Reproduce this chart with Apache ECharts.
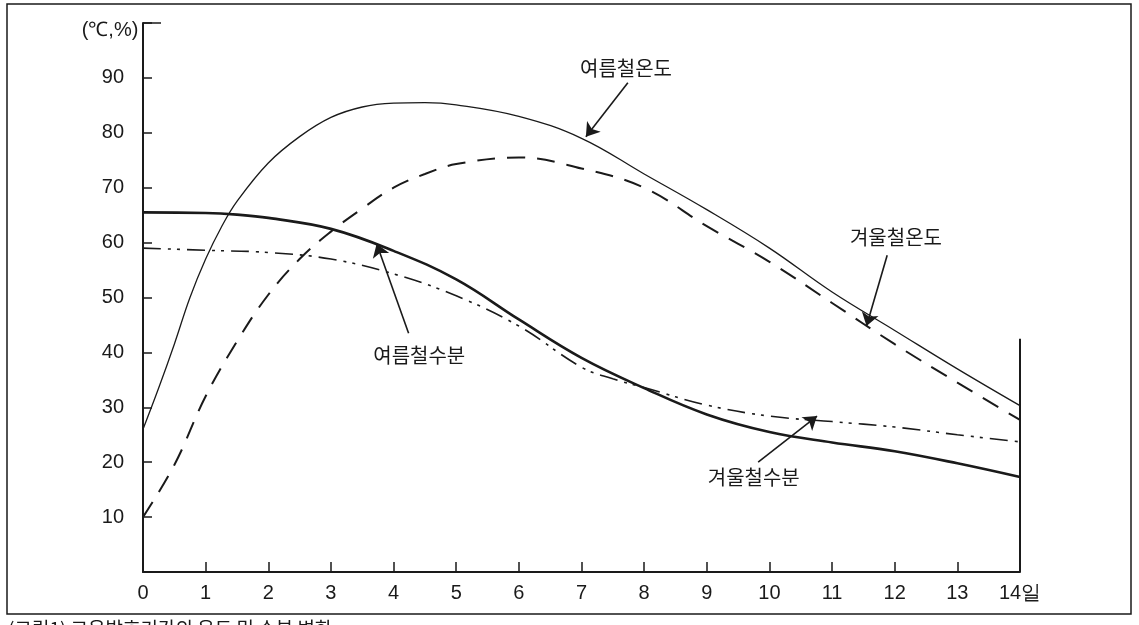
<!DOCTYPE html>
<html>
<head>
<meta charset="utf-8">
<script src="https://cdn.jsdelivr.net/npm/echarts@6/dist/echarts.min.js"></script>
<style>
html,body{margin:0;padding:0;background:#fff;}
#c{width:1139px;height:625px;}
</style>
</head>
<body>
<div id="c"></div>
<script>
// ---- data (day, value) ----
const summerTemp = [[0,26],[0.25,33.5],[0.5,41.5],[0.75,50],[1,57],[1.25,62.8],[1.5,67.5],[2,74.5],[2.5,79.3],[3,82.8],[3.5,84.7],[4,85.4],[4.5,85.5],[5,85.1],[6,83],[7,79],[8,72.5],[9,66],[10,59],[11,51],[12,44],[13,37],[14,30.3]];
const winterTemp = [[0,10],[0.5,19.5],[1,32],[1.5,42],[2,50.5],[2.5,57],[3,62],[3.5,66.2],[4,70],[4.5,72.5],[5,74.3],[6,75.5],[7,73.5],[8,70],[9,63],[10,56.5],[11,49],[12,41.5],[13,34.5],[14,27.7]];
const summerMoist = [[0,65.5],[1,65.4],[1.5,65.1],[2,64.5],[3,62.5],[4,58.5],[5,53.3],[6,46],[7,39],[8,33.5],[9,28.7],[10,25.5],[11,23.6],[12,22],[13,19.8],[14,17.3]];
const winterMoist = [[0,59],[1,58.6],[2,58.2],[3,57],[4,54.3],[5,50.3],[6,44.8],[7,37.3],[7.5,35.2],[8,33.6],[9,30.4],[10,28.4],[11,27.4],[12,26.4],[13,25],[14,23.7]];
const endLine = [[14,0],[14,42.5]];
const xTicks = [0,1,2,3,4,5,6,7,8,9,10,11,12,13,14];
const yTicks = [10,20,30,40,50,60,70,80,90];
const yUnit = '(℃,%)';
const xUnit = '일';
// annotation labels: [text, day, value]
const labels = [['여름철온도',7.71,91.8],['겨울철온도',12.02,61],['여름철수분',4.41,39.5],['겨울철수분',9.75,17.3]];
// annotation arrows: [fromDay, fromVal, toDay, toVal]
const arrows = [[7.74,89.1,7.07,79.3],[11.88,57.7,11.55,44.8],[4.24,43.5,3.73,59.8],[9.82,20,10.76,28.4]];
const caption = '(그림1) 고온발효기간의 온도 및 수분 변화';

const ink = '#1a1a1a';
const numFont = 'Liberation Sans, Arial, sans-serif';
const krFont = 'Noto Sans CJK KR, sans-serif';
const chart = echarts.init(document.getElementById('c'));
const option = {
  animation:false,
  backgroundColor:'#fff',
  grid:{left:143,right:119,top:23,bottom:53},
  xAxis:{type:'value',min:0,max:14,interval:1,
    axisLine:{lineStyle:{color:ink,width:2}},
    axisTick:{inside:true,length:10,lineStyle:{color:ink,width:1.5}},
    axisLabel:{color:ink,fontSize:20,fontFamily:numFont,margin:11,
      formatter:v=> v===14 ? '14'+xUnit : (xTicks.includes(v)?String(v):'')},
    splitLine:{show:false}},
  yAxis:{type:'value',min:0,max:100,interval:10,
    axisLine:{show:true,lineStyle:{color:ink,width:2}},
    axisTick:{inside:true,length:9,lineStyle:{color:ink,width:1.5}},
    axisLabel:{color:ink,fontSize:20,fontFamily:numFont,margin:19,
      formatter:v=> yTicks.includes(v)?String(v):''},
    splitLine:{show:false}},
  series:[
    {type:'line',data:summerTemp,smooth:0.4,symbol:'none',lineStyle:{color:ink,width:1.3}},
    {type:'line',data:winterTemp,smooth:0.4,symbol:'none',lineStyle:{color:ink,width:2,type:[18,12]}},
    {type:'line',data:summerMoist,smooth:0.4,symbol:'none',lineStyle:{color:ink,width:2.6}},
    {type:'line',data:winterMoist,smooth:0.4,symbol:'none',lineStyle:{color:ink,width:1.6,type:[18,7,3,6,3,7]}},
    {type:'line',data:endLine,symbol:'none',lineStyle:{color:ink,width:2},
      markLine:{silent:true,symbol:['none','arrow'],symbolSize:13,
        lineStyle:{color:ink,width:1.6,type:'solid'},label:{show:false},
        data:arrows.map(a=>[{coord:[a[0],a[1]]},{coord:[a[2],a[3]]}])}}
  ]
};
chart.setOption(option);
const g = [
  {type:'rect',shape:{x:7,y:4,width:1124,height:610},style:{fill:'none',stroke:ink,lineWidth:1.5},silent:true},
  {type:'text',x:110,y:30,style:{text:yUnit,fill:ink,fontSize:20,fontFamily:numFont,align:'center',verticalAlign:'middle'}},
  {type:'line',shape:{x1:143,y1:23,x2:161,y2:23},style:{stroke:ink,lineWidth:1.5}},
  {type:'text',x:8,y:619,style:{text:caption,fill:ink,fontSize:19,fontFamily:krFont,align:'left',verticalAlign:'top'}}
];
labels.forEach(l=>{
  const p = chart.convertToPixel({gridIndex:0},[l[1],l[2]]);
  g.push({type:'text',x:p[0],y:p[1],style:{text:l[0],fill:ink,fontSize:20,fontFamily:krFont,align:'center',verticalAlign:'middle'}});
});
chart.setOption({graphic:g});
</script>
</body>
</html>
